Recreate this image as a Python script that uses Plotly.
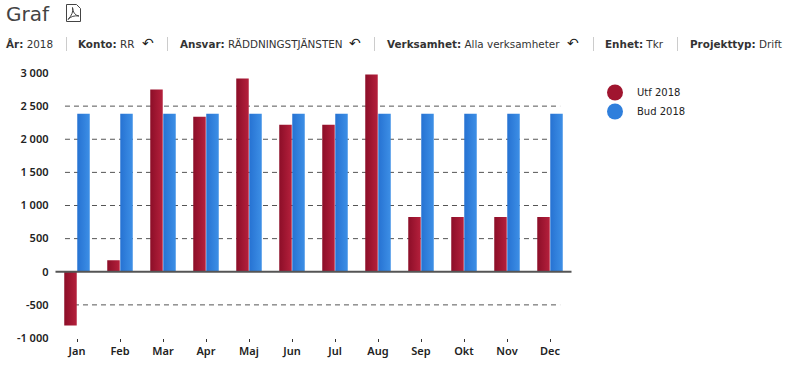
import plotly.graph_objects as go

W, H = 797, 370
months = ["Jan","Feb","Mar","Apr","Maj","Jun","Jul","Aug","Sep","Okt","Nov","Dec"]
utf_2018 = [-810,174,2750,2340,2917,2220,2220,2977,825,825,825,825]
bud_2018 = [2386]*12
y_ticks = [-1000,-500,0,500,1000,1500,2000,2500,3000]
y_labels = ["-1 000","-500","0","500","1 000","1 500","2 000","2 500","3 000"]
grid_levels = [-500,500,1000,1500,2000,2500]
RED, BLUE = "#a0152f", "#2f7fdc"
FONT = "DejaVu Sans"
TICKFONT = "Noto Sans"
INK = "#333333"

def px(x): return x / W
def py(y): return 1 - y / H

fig = go.Figure()
fig.add_bar(x=months, y=utf_2018, marker=dict(color=RED, line_width=0), showlegend=False, name="Utf 2018")
fig.add_bar(x=months, y=bud_2018, marker=dict(color=BLUE, line_width=0), showlegend=False, name="Bud 2018")
fig.add_scatter(x=[None], y=[None], mode="markers", name="Utf 2018", marker=dict(color=RED, size=16))
fig.add_scatter(x=[None], y=[None], mode="markers", name="Bud 2018", marker=dict(color=BLUE, size=16))

shapes = []
for v in grid_levels:
    shapes.append(dict(type="line", xref="x domain", yref="y", x0=0.0184, x1=0.978, y0=v, y1=v,
                       layer="below", line=dict(color="#555555", width=1, dash="5px,4px")))
# zero line sits on top of the bars
shapes.append(dict(type="line", xref="x domain", yref="y", x0=0, x1=1, y0=0, y1=0,
                   layer="above", line=dict(color="#555555", width=2)))
for x in [66.5, 167.5, 374.5, 593.5, 677.5]:
    shapes.append(dict(type="line", xref="paper", yref="paper", x0=px(x), x1=px(x), y0=py(37), y1=py(51),
                       line=dict(color="#cccccc", width=1)))
# PDF document icon
shapes.append(dict(type="path", xref="paper", yref="paper", line=dict(color="#444444", width=1),
    path=f"M {px(66.5)} {py(4.5)} L {px(76.5)} {py(4.5)} L {px(80.5)} {py(8.5)} L {px(80.5)} {py(21.5)} L {px(66.5)} {py(21.5)} Z "
         f"M {px(68)} {py(19.5)} Q {px(74)} {py(13)} {px(72.5)} {py(7.5)} Q {px(73)} {py(15)} {px(79)} {py(16)} Q {px(72)} {py(15)} {px(68)} {py(19.5)} Z"))

anns = [dict(text="Graf", x=px(5), y=py(14), font=dict(size=20, color="#444444"))]
for x, t in [(5,"<b>År:</b> 2018"),(77,"<b>Konto:</b> RR"),(179,"<b>Ansvar:</b> RÄDDNINGSTJÄNSTEN"),
             (386,"<b>Verksamhet:</b> Alla verksamheter"),(604,"<b>Enhet:</b> Tkr"),(689,"<b>Projekttyp:</b> Drift")]:
    anns.append(dict(text=t, x=px(x), y=py(44), font=dict(size=10.4, color=INK)))
for x in [141, 348, 566]:
    anns.append(dict(text="↶", x=px(x), y=py(43), font=dict(size=14, color="#222222")))
for a in anns:
    a.update(xref="paper", yref="paper", xanchor="left", yanchor="middle", showarrow=False)
    a["font"]["family"] = FONT
    a["borderpad"] = 0

tickfont = dict(family=TICKFONT, size=11, color="#222222", weight=600)
fig.update_layout(
    width=W, height=H, margin=dict(l=0, r=0, t=0, b=0),
    paper_bgcolor="white", plot_bgcolor="white",
    barmode="group", bargap=0.395, bargroupgap=0.04,
    shapes=shapes, annotations=anns,
    font=dict(family=FONT, size=10, color="#222222"),
    showlegend=True,
    legend=dict(x=px(593), y=py(78), xanchor="left", yanchor="top", bgcolor="rgba(0,0,0,0)",
                font=dict(size=10, family=FONT, color="#222222"), itemwidth=34, tracegroupgap=0),
    xaxis=dict(domain=[px(55.5), px(571.5)], type="category", categoryorder="array", categoryarray=months,
               automargin=False, showgrid=False, showline=False, zeroline=False, ticks="outside", ticklen=3,
               tickcolor="#333333", tickfont=tickfont, fixedrange=True, anchor="y"),
    yaxis=dict(domain=[py(338), py(73)], range=[-1000, 3000], tickvals=y_ticks, ticktext=y_labels,
               automargin=False, showgrid=False, showline=False, zeroline=False,
               ticks="", ticklabelstandoff=6, tickfont=tickfont, fixedrange=True, anchor="x"),
)

post = """
document.body.style.margin='0';
var svg=document.querySelector('.main-svg');
var ns='http://www.w3.org/2000/svg';
var defs=svg.querySelector('defs')||svg.insertBefore(document.createElementNS(ns,'defs'),svg.firstChild);
function grad(id,a,b){var g=document.createElementNS(ns,'linearGradient');g.id=id;
 [[0,a],[1,b]].forEach(function(s){var t=document.createElementNS(ns,'stop');t.setAttribute('offset',s[0]);t.setAttribute('stop-color',s[1]);g.appendChild(t);});
 defs.appendChild(g);}
grad('gr','#8c0e28','#b5203c');grad('gb','#2672d2','#3d8fe6');
document.querySelectorAll('.barlayer .trace').forEach(function(t,i){
 t.querySelectorAll('path').forEach(function(p){p.style.fill='url(#'+(i==0?'gr':'gb')+')';});});
"""
fig.write_html("out.html", post_script=post, config=dict(displayModeBar=False))
